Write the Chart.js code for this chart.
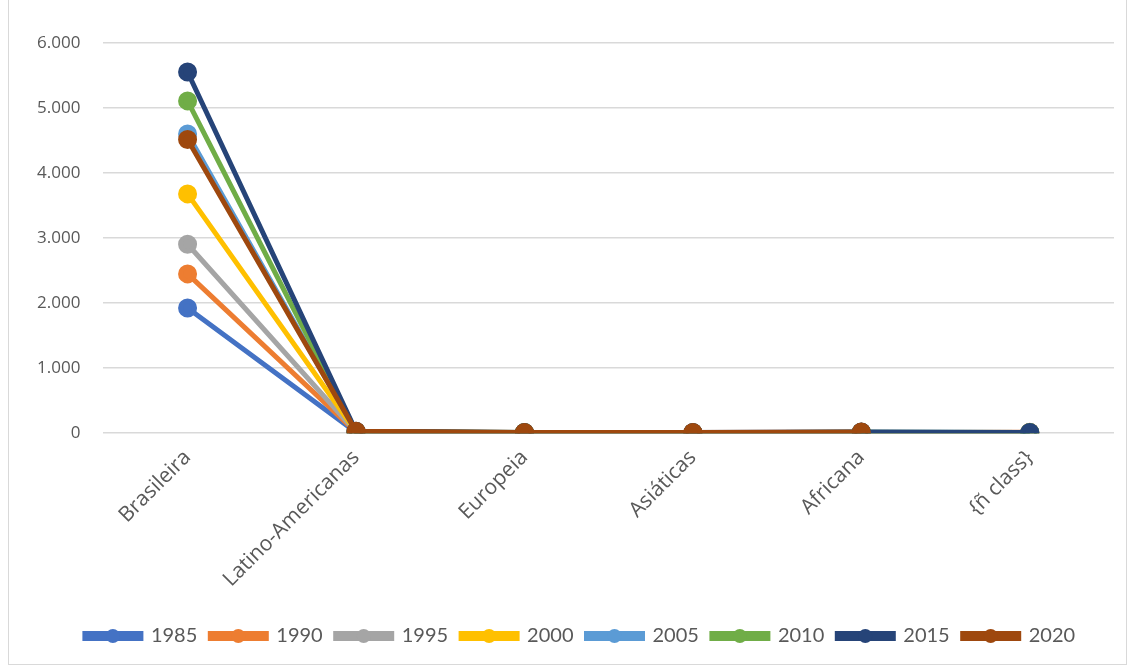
<!DOCTYPE html>
<html>
<head>
<meta charset="utf-8">
<script src="https://cdn.jsdelivr.net/npm/chart.js@4"></script>
<style>
  body { margin: 0; background: #fff; }
  #wrap { position: absolute; left: 8px; top: -2px; width: 1119px; height: 667px; border: 1px solid #d9d9d9; box-sizing: border-box; }
  canvas { display: block; }
</style>
</head>
<body>
<div id="wrap"><canvas id="chart" width="1117" height="665"></canvas></div>
<script>
// Kategorien und Werte pro Jahr (aus dem Bild geschätzt)
let categories = ['Brasileira', 'Latino-Americanas', 'Europeia', 'Asiáticas', 'Africana', '{ñ class}'];
let years = ['1985', '1990', '1995', '2000', '2005', '2010', '2015', '2020'];
let colors = ['#4472c4', '#ed7d31', '#a5a5a5', '#ffc000', '#5b9bd5', '#70ad47', '#264478', '#9e480e'];

let v1985 = [1925, 15, 5, 4, 8, 6];
let v1990 = [2450, 18, 6, 5, 9, 14];
let v1995 = [2905, 20, 7, 6, 10, 8];
let v2000 = [3680, 22, 8, 7, 12, 9];
let v2005 = [4600, 25, 9, 8, 14, 10];
let v2010 = [5110, 28, 10, 9, 16, 11];
let v2015 = [5555, 30, 10, 10, 18, 12];
let v2020 = [4515, 32, 11, 11, 20, null];

let allValues = [v1985, v1990, v1995, v2000, v2005, v2010, v2015, v2020];

// spätere Jahre liegen oben (wie in Excel)
let datasets = years.map((y, i) => ({
  label: y,
  data: allValues[i],
  order: years.length - i,
  borderColor: colors[i],
  backgroundColor: colors[i],
  borderWidth: 5,
  pointRadius: 7,
  pointHoverRadius: 7,
  tension: 0
}));

// Legende: etwas nach rechts schieben und Punkt auf die Linie setzen
const legendDots = {
  id: 'legendDots',
  afterUpdate(chart) {
    let legend = chart.legend;
    let shift = 12;
    legend.left += shift;
    legend.right += shift;
    legend.legendHitBoxes.forEach(b => { b.left += shift; });
  },
  afterDraw(chart) {
    let legend = chart.legend;
    if (!legend || !legend.legendHitBoxes) return;
    let ctx = chart.ctx;
    let w = legend.options.labels.boxWidth;
    legend.legendHitBoxes.forEach((box, i) => {
      let cy = box.top + box.height / 2;
      ctx.save();
      ctx.fillStyle = colors[legend.legendItems[i].datasetIndex];
      ctx.beginPath();
      ctx.arc(box.left + w / 2, cy, 7, 0, Math.PI * 2);
      ctx.fill();
      ctx.restore();
    });
  }
};

new Chart(document.getElementById('chart'), {
  type: 'line',
  data: { labels: categories, datasets: datasets },
  plugins: [legendDots],
  options: {
    responsive: false,
    animation: false,
    layout: { padding: { left: 5, right: 4, top: 44, bottom: 8 } },
    plugins: {
      legend: {
        position: 'bottom',
        labels: {
          boxWidth: 56,
          boxHeight: 5,
          padding: 13,
          color: '#595959',
          font: { family: 'Lato', size: 20 },
          sort: (a, b) => a.datasetIndex - b.datasetIndex
        }
      },
      tooltip: { enabled: false }
    },
    scales: {
      x: {
        offset: true,
        grid: { display: false },
        border: { display: false },
        afterFit: scale => { scale.height += 17; },
        ticks: {
          color: '#595959',
          font: { family: 'Open Sans', size: 21 },
          minRotation: 45,
          maxRotation: 45,
          padding: 4
        }
      },
      y: {
        min: 0,
        max: 6000,
        grid: { color: '#d9d9d9', lineWidth: 1.5, drawTicks: false },
        border: { display: false },
        ticks: {
          stepSize: 1000,
          color: '#595959',
          font: { family: 'Open Sans', size: 17 },
          padding: 23,
          callback: v => v.toLocaleString('de-DE')
        }
      }
    }
  }
});
</script>
</body>
</html>
